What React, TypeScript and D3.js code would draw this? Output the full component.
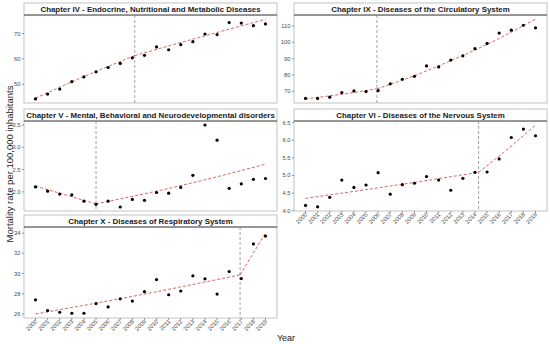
import React from "react";
import * as d3 from "d3";

const years = d3.range(2000, 2020);

const ch4Values = [44.2, 46.1, 48.1, 51.0, 52.9, 54.9, 56.6, 58.2, 60.4, 61.4, 64.7, 63.6, 65.6, 66.8, 69.8, 69.6, 74.3, 74.1, 73.1, 73.8];
const ch9Values = [65.6, 65.6, 66.4, 69.2, 70.2, 69.8, 70.4, 74.6, 77.4, 79.2, 85.6, 85.0, 89.2, 91.8, 96.2, 99.4, 105.8, 107.6, 110.6, 109.0];
const ch5Values = [2.11, 2.015, 1.95, 1.93, 1.79, 1.72, 1.79, 1.66, 1.83, 1.81, 1.985, 1.97, 2.10, 2.37, 3.50, 3.16, 2.08, 2.18, 2.28, 2.30];
const ch6Values = [4.15, 4.11, 4.38, 4.87, 4.66, 4.73, 5.08, 4.47, 4.74, 4.78, 4.97, 4.87, 4.58, 4.92, 5.09, 5.10, 5.47, 6.08, 6.32, 6.13];
const ch10Values = [27.4, 26.33, 26.17, 26.07, 26.07, 27.03, 26.7, 27.5, 27.27, 28.2, 29.4, 27.9, 28.27, 29.77, 29.47, 27.97, 30.2, 29.5, 32.93, 33.7];

// fitted joinpoint segments [year, value]
const ch4Fit1: [number, number][] = [[2000, 44.5], [2004, 53.0], [2008.2, 61.3]];
const ch4Fit2: [number, number][] = [[2008.2, 61.3], [2014, 69.1], [2019, 75.6]];
const ch9Fit1: [number, number][] = [[2000, 65.3], [2003, 68.2], [2005.9, 71.5]];
const ch9Fit2: [number, number][] = [[2005.9, 71.5], [2009, 79.6], [2012, 88.8], [2016, 102.5], [2019, 114.4]];
const ch5Fit1: [number, number][] = [[2000, 2.13], [2005, 1.73]];
const ch5Fit2: [number, number][] = [[2005, 1.73], [2012, 2.14], [2019, 2.62]];
const ch6Fit1: [number, number][] = [[2000, 4.35], [2007, 4.70], [2014.3, 5.09]];
const ch6Fit2: [number, number][] = [[2014.3, 5.09], [2017, 5.84], [2019, 6.43]];
const ch10Fit1: [number, number][] = [[2000, 26.0], [2008.5, 27.85], [2016.9, 29.87]];
const ch10Fit2: [number, number][] = [[2016.9, 29.87], [2019, 34.0]];

const ch4Ticks = [50, 60, 70];
const ch9Ticks = [70, 80, 90, 100, 110];
const ch5Ticks = [2.0, 2.5, 3.0, 3.5];
const ch6Ticks = [4.0, 4.5, 5.0, 5.5, 6.0, 6.5];
const ch10Ticks = [26, 28, 30, 32, 34];

const panels = [
  { title: "Chapter IV - Endocrine, Nutritional and Metabolic Diseases", values: ch4Values, fit: [ch4Fit1, ch4Fit2], brk: 2008.2, domain: [42.6, 77.3], ticks: ch4Ticks, fmt: "d", col: 0, row: 0, xAxis: false },
  { title: "Chapter IX - Diseases of the Circulatory System", values: ch9Values, fit: [ch9Fit1, ch9Fit2], brk: 2005.9, domain: [62.8, 116.9], ticks: ch9Ticks, fmt: "d", col: 1, row: 0, xAxis: false },
  { title: "Chapter V - Mental, Behavioral and Neurodevelopmental disorders", values: ch5Values, fit: [ch5Fit1, ch5Fit2], brk: 2005.0, domain: [1.57, 3.59], ticks: ch5Ticks, fmt: ".1f", col: 0, row: 1, xAxis: false },
  { title: "Chapter VI - Diseases of the Nervous System", values: ch6Values, fit: [ch6Fit1, ch6Fit2], brk: 2014.3, domain: [3.99, 6.55], ticks: ch6Ticks, fmt: ".1f", col: 1, row: 1, xAxis: true },
  { title: "Chapter X - Diseases of Respiratory System", values: ch10Values, fit: [ch10Fit1, ch10Fit2], brk: 2016.9, domain: [25.6, 34.6], ticks: ch10Ticks, fmt: "d", col: 0, row: 2, xAxis: true },
];

const colX = [[24, 277], [294, 547]];
const rowY = [[3, 15, 103], [109, 121, 211], [215, 227, 318]];

const FONT = "Liberation Sans, Arial, sans-serif";

function Panel({ p }: { p: typeof panels[number] }) {
  const [x0, x1] = colX[p.col];
  const [h0, y0, y1] = rowY[p.row];
  const x = d3.scaleLinear().domain([1999.05, 2019.95]).range([x0, x1]);
  const y = d3.scaleLinear().domain(p.domain).range([y1, y0]);
  const line = d3.line<[number, number]>().x((d) => x(d[0])).y((d) => y(d[1])).curve(d3.curveMonotoneX);
  const f = d3.format(p.fmt);
  return (
    <g>
      <rect x={x0} y={y0} width={x1 - x0} height={y1 - y0} fill="white" stroke="#b3b3b3" strokeWidth={0.8} />
      <rect x={x0} y={h0} width={x1 - x0} height={y0 - h0} fill="white" stroke="#b3b3b3" strokeWidth={0.8} />
      <line x1={x0} x2={x1} y1={y0} y2={y0} stroke="#555" strokeWidth={1} />
      <text x={(x0 + x1) / 2} y={(h0 + y0) / 2 + 3} textAnchor="middle" fontFamily={FONT} fontWeight="bold" fontSize={7.9} fill="#1a1a1a">{p.title}</text>
      {p.ticks.map((t) => (
        <g key={t}>
          <line x1={x0 - 2} x2={x0} y1={y(t)} y2={y(t)} stroke="#555" strokeWidth={0.6} />
          <text x={x0 - 3.5} y={y(t) + 2} textAnchor="end" fontFamily={FONT} fontSize={5.8} fill="#4d4d4d">{f(t)}</text>
        </g>
      ))}
      {p.xAxis && years.map((yr) => (
        <g key={yr}>
          <line x1={x(yr)} x2={x(yr)} y1={y1} y2={y1 + 2} stroke="#555" strokeWidth={0.6} />
          <text transform={`translate(${x(yr) + 2},${y1 + 4}) rotate(-45)`} textAnchor="end" fontFamily={FONT} fontSize={5.8} fill="#4d4d4d">{yr}</text>
        </g>
      ))}
      <line x1={x(p.brk)} x2={x(p.brk)} y1={y0} y2={y1} stroke="#8c8c8c" strokeWidth={0.8} strokeDasharray="3,2" />
      {p.fit.map((seg, i) => (
        <path key={i} d={line(seg) || ""} fill="none" stroke="#d9534f" strokeOpacity={0.9} strokeWidth={1} strokeDasharray="3,2" />
      ))}
      {p.values.map((v, i) => (
        <circle key={i} cx={x(years[i])} cy={y(v)} r={1.6} fill="#000" />
      ))}
    </g>
  );
}

export default function App() {
  return (
    <svg width={550} height={344} style={{ position: "absolute", left: 0, top: 0, background: "white" }}>
      <rect width={550} height={344} fill="white" />
      {panels.map((p, i) => <Panel key={i} p={p} />)}
      <text transform="translate(13,164) rotate(-90)" textAnchor="middle" fontFamily={FONT} fontSize={9.5} fill="#1a1a1a">Mortality rate per 100,000 inhabitants</text>
      <text x={286} y={341} textAnchor="middle" fontFamily={FONT} fontSize={9} fill="#1a1a1a">Year</text>
    </svg>
  );
}
